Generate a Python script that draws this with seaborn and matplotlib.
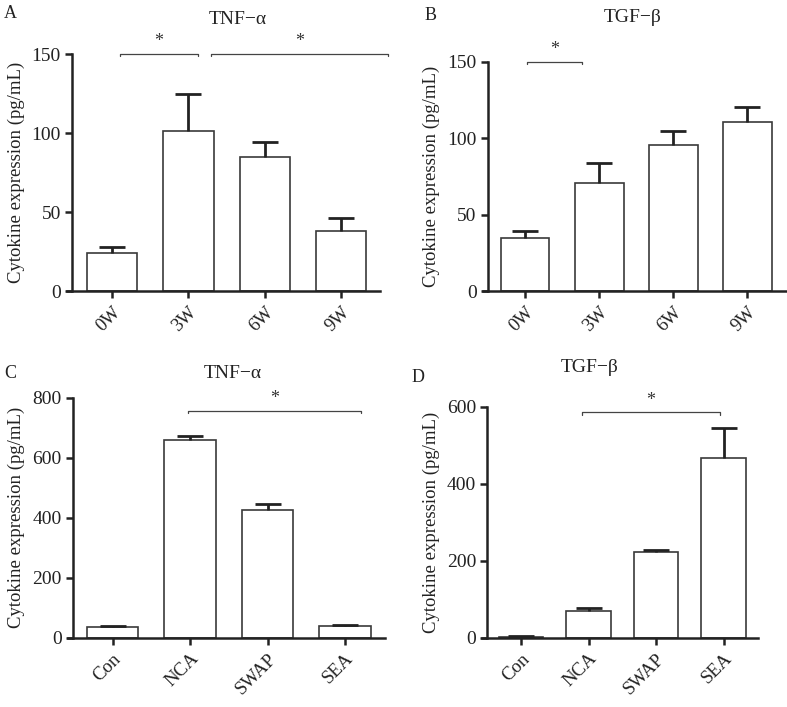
import numpy as np
import pandas as pd
import matplotlib
matplotlib.use("Agg")
import matplotlib.pyplot as plt
import seaborn as sns

# ---- data ----
weeks = ["0W", "3W", "6W", "9W"]
groups = ["Con", "NCA", "SWAP", "SEA"]

tnf_weeks_mean = [24, 101, 85, 38]
tnf_weeks_err = [4, 23.5, 9, 8.5]

tgf_weeks_mean = [35, 70.5, 95.5, 110.8]
tgf_weeks_err = [4, 13, 9.2, 9.8]

tnf_groups_mean = [36, 659, 427, 39]
tnf_groups_err = [3, 14, 18, 4]

tgf_groups_mean = [3, 70, 223, 467]
tgf_groups_err = [2, 6, 6, 77]

sns.set_theme(style="ticks")
plt.rcParams["font.family"] = ["Liberation Serif", "DejaVu Serif"]

fig = plt.figure(figsize=(7.87, 7.07), dpi=100)

H = 707.0
W = 787.0

panels = [
    dict(rect=[0.0915, 0.5884, 0.3913, 0.3352], cats=weeks, mean=tnf_weeks_mean,
         err=tnf_weeks_err, title="TNF\u2212\u03b1", ylim=150, yticks=[0, 50, 100, 150],
         xlim=(-0.524, 3.51), spacing=76.3, letter="A", lpos=(4, 14), tpos=(238, 20),
         brackets=[((0.1, 1.13), 150, 1.5), ((1.30, 3.62), 150, 1.5)]),
    dict(rect=[0.6197, 0.5884, 0.380, 0.3243], cats=weeks, mean=tgf_weeks_mean,
         err=tgf_weeks_err, title="TGF\u2212\u03b2", ylim=150, yticks=[0, 50, 100, 150],
         xlim=(-0.503, 3.53), spacing=74.2, letter="B", lpos=(425, 15), tpos=(633, 18),
         brackets=[((0.03, 0.77), 150, 1.5)]),
    dict(rect=[0.0924, 0.098, 0.3968, 0.3395], cats=groups, mean=tnf_groups_mean,
         err=tnf_groups_err, title="TNF\u2212\u03b1", ylim=800, yticks=[0, 200, 400, 600, 800],
         xlim=(-0.514, 3.516), spacing=77.5, letter="C", lpos=(4, 374), tpos=(233, 374),
         brackets=[((0.98, 3.2), 757, 8.0)]),
    dict(rect=[0.6192, 0.098, 0.344, 0.3268], cats=groups, mean=tgf_groups_mean,
         err=tgf_groups_err, title="TGF\u2212\u03b2", ylim=600, yticks=[0, 200, 400, 600],
         xlim=(-0.5, 3.51), spacing=67.5, letter="D", lpos=(412, 377), tpos=(590, 368),
         brackets=[((0.9, 2.95), 585, 6.0)]),
]

for p in panels:
    over = 5.0  # px the x-axis extends left of the y-axis
    r = list(p["rect"])
    r[0] -= over / W
    r[2] += over / W
    ax = fig.add_axes(r)
    df = pd.DataFrame({"cat": p["cats"], "val": p["mean"]})
    sns.barplot(data=df, x="cat", y="val", ax=ax, color="white", width=0.66,
                edgecolor="#3a3a3a", linewidth=1.2, errorbar=None, saturation=1)
    xs = np.arange(len(p["cats"]))
    means = np.asarray(p["mean"], float)
    errs = np.asarray(p["err"], float)
    ax.errorbar(xs, means, yerr=[np.zeros(len(xs)), errs], fmt="none",
                ecolor="#222222", elinewidth=2.0, capsize=0, zorder=3)
    ax.plot(xs, means + errs, ls="none", marker="_", markersize=19,
            markeredgewidth=2.0, color="#222222", zorder=3)
    xl = p["xlim"][0]
    ax.set_xlim(xl - over / p["spacing"], p["xlim"][1])
    ax.spines["left"].set_position(("data", xl))
    ax.set_ylim(0, p["ylim"])
    ax.set_yticks(p["yticks"])
    ax.set_ylabel("Cytokine expression (pg/mL)", fontsize=13.5, color="#222222",
                  labelpad=5)
    ax.set_xlabel("")
    ax.tick_params(axis="both", labelsize=14, width=1.8, length=5, colors="#222222")
    ax.tick_params(axis="x", pad=4)
    ax.tick_params(axis="y", pad=3)
    for lab in ax.get_xticklabels():
        lab.set_rotation(45)
        lab.set_ha("right")
        lab.set_va("top")
        lab.set_rotation_mode("anchor")
        lab.set_fontsize(13.5)
    for s in ["top", "right"]:
        ax.spines[s].set_visible(False)
    for s in ["left", "bottom"]:
        ax.spines[s].set_linewidth(1.8)
        ax.spines[s].set_color("#222222")
    for (x0, x1), yb, tick in p["brackets"]:
        ax.plot([x0, x0, x1, x1], [yb - tick, yb, yb, yb - tick], color="#444444",
                lw=0.9, clip_on=False)
        ax.text((x0 + x1) / 2, yb + p["ylim"] * 0.015, "*", ha="center", va="bottom",
                fontsize=13, color="#333333", clip_on=False)
    fig.text(p["lpos"][0] / W, 1 - p["lpos"][1] / H, p["letter"], fontsize=13,
             ha="left", va="center", color="#222222")
    fig.text(p["tpos"][0] / W, 1 - p["tpos"][1] / H, p["title"], fontsize=14,
             ha="center", va="center", color="#222222")

fig.savefig("out.png", dpi=100, facecolor="white")
